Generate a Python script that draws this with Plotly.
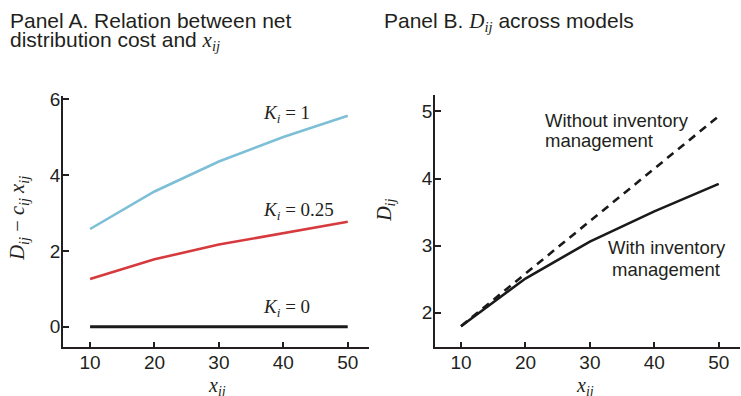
import plotly.graph_objects as go

# ---- data ----
x_vals = [10, 20, 30, 40, 50]
k1_vals = [2.58, 3.57, 4.36, 5.01, 5.57]
k025_vals = [1.26, 1.78, 2.17, 2.47, 2.77]
k0_vals = [0, 0, 0, 0, 0]
with_inv = [1.80, 2.51, 3.06, 3.51, 3.92]
without_inv = [1.80, 2.58, 3.36, 4.14, 4.93]
a_yticks = [0, 2, 4, 6]
b_yticks = [2, 3, 4, 5]
x_ticks = [10, 20, 30, 40, 50]

W, H = 741, 396
def px(x):
    return x / W
def py(y):
    return 1 - y / H

SANS = "Liberation Sans, Arial, sans-serif"
SERIF = "Liberation Serif, Times New Roman, serif"
TXT = "#231f20"
BLUE = "#7cbfd7"
RED = "#d63a3e"

fig = go.Figure()
fig.add_trace(go.Scatter(x=x_vals, y=k1_vals, mode="lines", line=dict(color=BLUE, width=2.6),
                         xaxis="x", yaxis="y", showlegend=False))
fig.add_trace(go.Scatter(x=x_vals, y=k025_vals, mode="lines", line=dict(color=RED, width=2.6),
                         xaxis="x", yaxis="y", showlegend=False))
fig.add_trace(go.Scatter(x=x_vals, y=k0_vals, mode="lines", line=dict(color="#1a1a1a", width=3),
                         xaxis="x", yaxis="y", showlegend=False))
fig.add_trace(go.Scatter(x=x_vals, y=without_inv, mode="lines",
                         line=dict(color="#1a1a1a", width=2.6, dash="8px,6px"),
                         xaxis="x2", yaxis="y2", showlegend=False))
fig.add_trace(go.Scatter(x=x_vals, y=with_inv, mode="lines", line=dict(color="#1a1a1a", width=2.6),
                         xaxis="x2", yaxis="y2", showlegend=False))

axis_common = dict(showline=True, linecolor=TXT, linewidth=1.5, ticks="inside", ticklen=6,
                   tickwidth=1.5, tickcolor=TXT, showgrid=False, zeroline=False,
                   tickfont=dict(family=SANS, size=19, color=TXT), mirror=False,
                   ticklabelstandoff=-3)

fig.update_layout(
    width=W, height=H, margin=dict(l=0, r=0, t=0, b=0),
    plot_bgcolor="white", paper_bgcolor="white",
    xaxis=dict(domain=[px(63), px(369)], range=[5.8, 53.3], tickvals=x_ticks,
               anchor="y", **axis_common),
    yaxis=dict(domain=[py(346.7), py(91)], range=[-0.546, 6.10], tickvals=a_yticks,
               anchor="x", **axis_common),
    xaxis2=dict(domain=[px(435), px(740)], range=[5.96, 53.3], tickvals=x_ticks,
                anchor="y2", **axis_common),
    yaxis2=dict(domain=[py(346.7), py(90)], range=[1.483, 5.25], tickvals=b_yticks,
                anchor="x2", **axis_common),
)

def ann(text, x, y, size, family, xanchor="left", yanchor="top", textangle=0):
    fig.add_annotation(text=text, x=px(x), y=py(y), xref="paper", yref="paper",
                       xanchor=xanchor, yanchor=yanchor, showarrow=False,
                       textangle=textangle,
                       font=dict(family=family, size=size, color=TXT))

def ser(s):
    return f'<span style="font-family:{SERIF}">{s}</span>'

# titles
ann("Panel A. Relation between net", 8, 1, 21, SANS)
ann("distribution cost and " + ser("<i>x</i><sub><i>ij</i></sub>"), 8, 20, 21, SANS)
ann("Panel B. " + ser("<i>D</i><sub><i>ij</i></sub>") + " across models", 382, 1, 21, SANS)

# axis titles
ann("<i>D</i><sub><i>ij</i></sub> − <i>c</i><sub><i>ij</i></sub> <i>x</i><sub><i>ij</i></sub>",
    19, 216, 20.5, SERIF, xanchor="center", yanchor="middle", textangle=-90)
ann("<i>x</i><sub><i>ij</i></sub>", 217, 372, 20, SERIF, xanchor="center")
ann("<i>D</i><sub><i>ij</i></sub>", 386, 208, 20, SERIF, xanchor="center", yanchor="middle",
    textangle=-90)
ann("<i>x</i><sub><i>ij</i></sub>", 585, 372, 20, SERIF, xanchor="center")

# series labels panel A
ann("<i>K</i><sub><i>i</i></sub> = 1", 261, 95, 19, SERIF)
ann("<i>K</i><sub><i>i</i></sub> = 0.25", 261, 193.5, 19, SERIF)
ann("<i>K</i><sub><i>i</i></sub> = 0", 261, 292.5, 19, SERIF)

# series labels panel B
ann("Without inventory", 543, 103.5, 18.5, SANS)
ann("management", 543, 124, 18.5, SANS)
ann("With inventory", 667, 233, 18.5, SANS, xanchor="center")
ann("management", 666, 255, 18.5, SANS, xanchor="center")

fig.write_html("out.html", config={"displayModeBar": False},
               post_script="document.body.style.margin='0';document.body.style.overflow='hidden';")
